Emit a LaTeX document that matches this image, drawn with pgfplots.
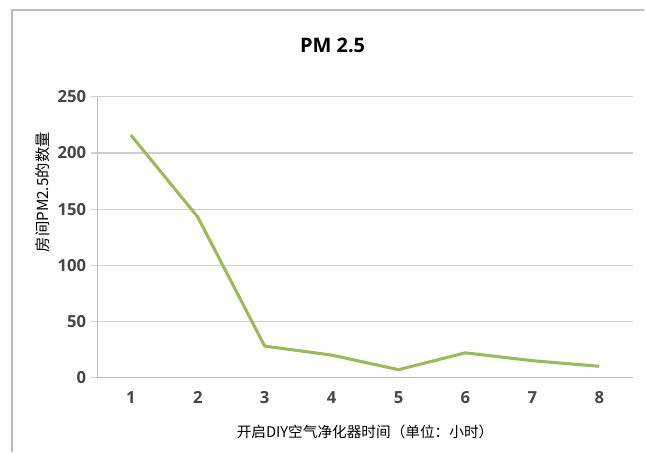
\documentclass[border=0pt]{standalone}
\usepackage{pgfplots}
\pgfplotsset{compat=1.18}
\usepackage{fontspec}
\setmainfont{Open Sans}
\newfontfamily\cjk{Noto Sans CJK SC}
\definecolor{linegreen}{HTML}{9BBB59}
\definecolor{gridgray}{HTML}{CFCFCF}
\definecolor{axgray}{HTML}{BDBDBD}
\begin{document}
\begin{tikzpicture}
\path (0pt,0pt) rectangle (483.75pt,339.75pt);
\draw[axgray,line width=1.2pt] (9pt,0pt) -- (9pt,332.25pt) -- (483.75pt,332.25pt);
\node[font=\bfseries\fontsize{15}{18}\selectfont] at (249.75pt,306pt) {PM 2.5};
\begin{axis}[
  at={(73.125pt,56.25pt)}, anchor=south west,
  scale only axis, width=402pt, height=210.75pt,
  xmin=0.5, xmax=8.5, ymin=0, ymax=250,
  xtick={1,...,8},
  ytick={0,50,...,250},
  extra x ticks={0.5,1.5,...,8.5},
  extra x tick labels={},
  extra x tick style={major tick length=4pt, tick style={axgray, line width=0.8pt}, grid=none},
  axis x line*=bottom, axis y line*=left,
  x axis line style={axgray, line width=0.9pt, -},
  y axis line style={axgray, line width=0.9pt, -},
  ymajorgrids, grid style={gridgray, line width=0.9pt},
  tick align=outside,
  xtick style={draw=none},
  ytick style={gridgray, line width=0.9pt},
  major tick length=5pt,
  tick label style={font=\bfseries\fontsize{12.5}{14}\selectfont, text=black!72},
  xticklabel style={yshift=-2pt},
  /pgf/number format/assume math mode=true,
  xlabel={\cjk 开启DIY空气净化器时间（单位：小时）},
  xlabel style={font=\fontsize{11}{13}\selectfont, text=black},
  ylabel={\cjk 房间PM2.5的数量},
  ylabel style={font=\fontsize{11.5}{13}\selectfont, text=black, at={(ticklabel cs:0.66)}, yshift=-1pt},
]
\addplot[linegreen, line width=2.3pt, line join=round] coordinates {
  (1,216) (2,143) (3,28) (4,20) (5,7) (6,22) (7,15) (8,10)
};
\end{axis}
\end{tikzpicture}
\end{document}
